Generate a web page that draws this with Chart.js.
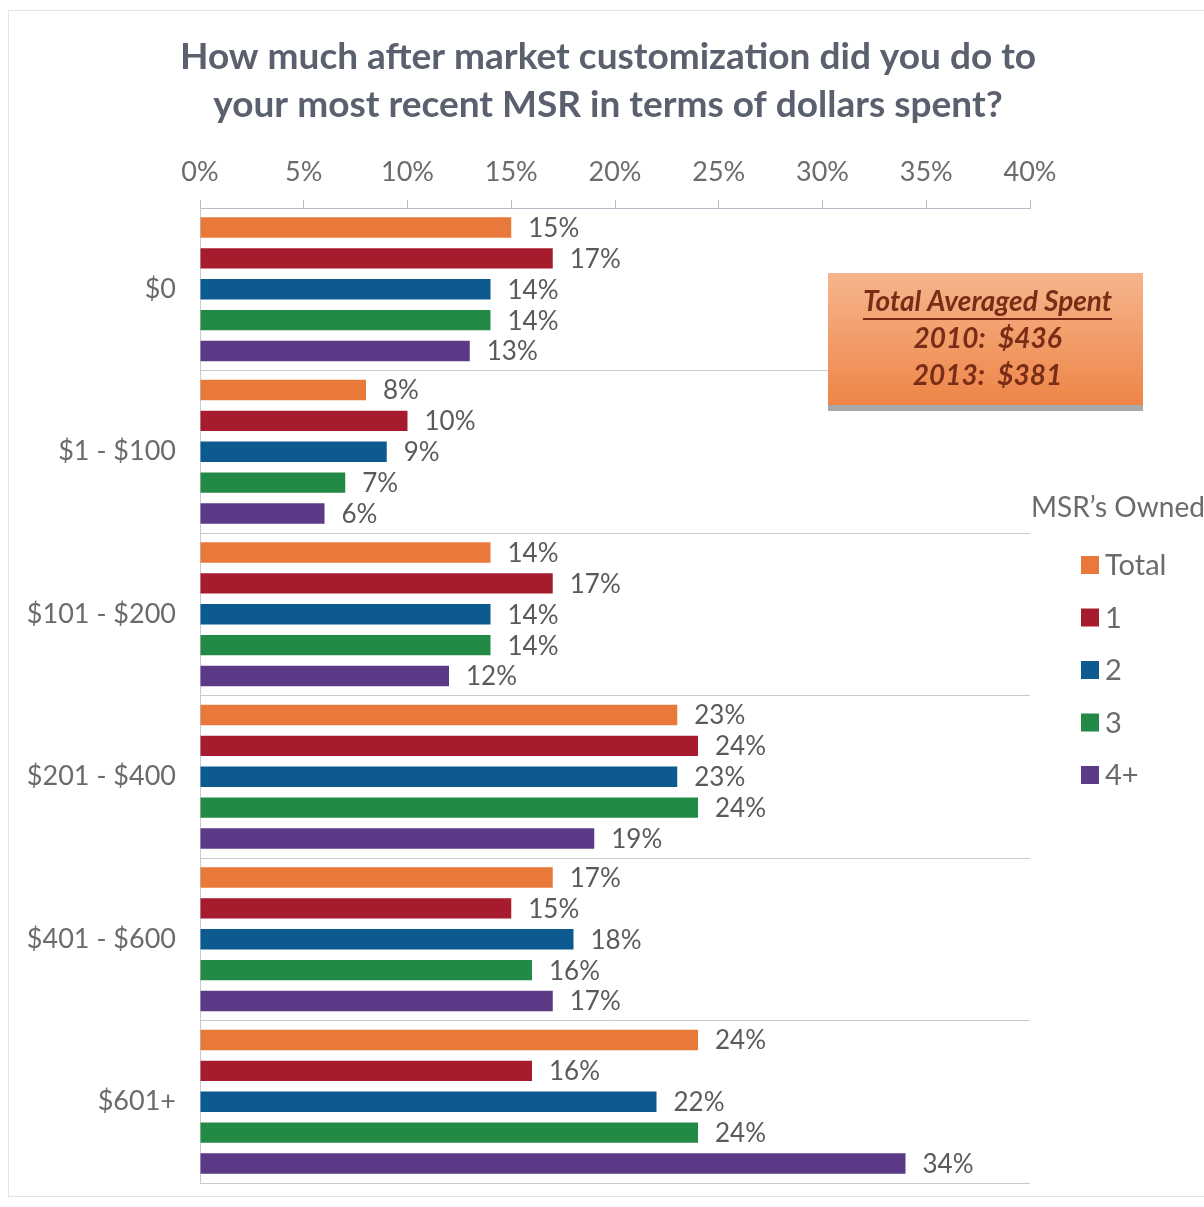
<!DOCTYPE html>
<html>
<head>
<meta charset="utf-8">
<script src="https://cdn.jsdelivr.net/npm/chart.js@4/dist/chart.umd.min.js"></script>
<style>
  html, body { margin: 0; padding: 0; background: #ffffff; }
  #wrap { position: relative; width: 1204px; height: 1207px; }
  #frame { position: absolute; left: 8px; top: 10px; right: -2px; bottom: 10px; border: 1px solid #e4e4e8; pointer-events: none; }
</style>
</head>
<body>
<div id="wrap">
  <canvas id="chart" width="1204" height="1207"></canvas>
  <div id="frame"></div>
</div>
<script>
// Spending brackets (categories) and share of respondents per MSR-count group
const categories = ['$0', '$1 - $100', '$101 - $200', '$201 - $400', '$401 - $600', '$601+'];
const seriesNames = ['Total', '1', '2', '3', '4+'];
const totalValues = [15, 8, 14, 23, 17, 24];
const owned1Values = [17, 10, 17, 24, 15, 16];
const owned2Values = [14, 9, 14, 23, 18, 22];
const owned3Values = [14, 7, 14, 24, 16, 24];
const owned4Values = [13, 6, 12, 19, 17, 34];
const xTicks = [0, 5, 10, 15, 20, 25, 30, 35, 40];
const seriesColors = ['#e8793a', '#a61c2e', '#0d5a91', '#238a46', '#5b3a88'];
const titleLines = ['How much after market customization did you do to', 'your most recent MSR in terms of dollars spent?'];
const boxLines = ['Total Averaged Spent', '2010:  $436', '2013:  $381'];
const keyTitle = 'MSR\u2019s Owned';

const FONT = "Lato, 'Open Sans', 'DejaVu Sans', sans-serif";
const allValues = [totalValues, owned1Values, owned2Values, owned3Values, owned4Values];

const datasets = seriesNames.map((name, i) => ({
  label: name,
  data: allValues[i],
  backgroundColor: seriesColors[i],
  borderWidth: 0,
  categoryPercentage: 0.95,
  barPercentage: 0.66
}));

// Value labels to the right of each bar
const valueLabels = {
  id: 'valueLabels',
  afterDatasetsDraw(chart) {
    const ctx = chart.ctx;
    ctx.save();
    ctx.font = '26px ' + FONT;
    ctx.fillStyle = '#5a5a5a';
    ctx.textAlign = 'left';
    ctx.textBaseline = 'middle';
    chart.data.datasets.forEach((ds, di) => {
      chart.getDatasetMeta(di).data.forEach((bar, i) => {
        ctx.fillText(ds.data[i] + '%', bar.x + 17, bar.y + 1);
      });
    });
    ctx.restore();
  }
};

// Heading, orange summary box and the series key on the right
const extras = {
  id: 'extras',
  afterDraw(chart) {
    const ctx = chart.ctx;
    ctx.save();
    ctx.textAlign = 'center';
    ctx.textBaseline = 'middle';
    ctx.fillStyle = '#5b606e';
    ctx.font = 'bold 37px ' + FONT;
    ctx.fillText(titleLines[0], 608, 57);
    ctx.fillText(titleLines[1], 608, 105);

    // summary box
    const bx = 828, by = 273, bw = 315, bh = 132;
    ctx.fillStyle = '#a9a9ad';
    ctx.fillRect(bx, by + bh, bw, 6);
    const g = ctx.createLinearGradient(0, by, 0, by + bh);
    g.addColorStop(0, '#f6b58d');
    g.addColorStop(1, '#ee8547');
    ctx.fillStyle = g;
    ctx.fillRect(bx, by, bw, bh);
    ctx.fillStyle = '#7a2d16';
    ctx.font = 'italic bold 28px ' + FONT;
    const cx = bx + bw / 2 + 2;
    ctx.fillText(boxLines[0], cx, 302);
    const tw = ctx.measureText(boxLines[0]).width;
    ctx.fillRect(cx - tw / 2, 318, tw, 2);
    ctx.fillText(boxLines[1], cx, 339);
    ctx.fillText(boxLines[2], cx, 376);

    // series key
    ctx.textAlign = 'left';
    ctx.font = '28px ' + FONT;
    ctx.fillStyle = '#6b6b6b';
    ctx.fillText(keyTitle, 1031, 508);
    ctx.font = '29px ' + FONT;
    chart.data.datasets.forEach((ds, i) => {
      const y = 565 + i * 52.5;
      ctx.fillStyle = ds.backgroundColor;
      ctx.fillRect(1081, y - 9, 18, 18);
      ctx.fillStyle = '#6b6b6b';
      ctx.fillText(ds.label, 1105, y + 1);
    });
    ctx.restore();
  }
};

new Chart(document.getElementById('chart'), {
  type: 'bar',
  data: { labels: categories, datasets },
  options: {
    indexAxis: 'y',
    responsive: false,
    animation: false,
    layout: { padding: { left: 0, right: 174, top: 138, bottom: 24 } },
    plugins: {
      legend: { display: false },
      tooltip: { enabled: false },
      title: { display: false }
    },
    scales: {
      x: {
        position: 'top',
        min: 0,
        max: 40,
        afterBuildTicks(scale) { scale.ticks = xTicks.map(v => ({ value: v })); },
        afterFit(scale) {
          scale.height = 70;
          scale.paddingLeft = 0;
          scale.paddingRight = 0;
        },
        ticks: {
          color: '#6b6b6b',
          font: { family: FONT, size: 27 },
          padding: 12,
          maxRotation: 0,
          callback: v => v + '%'
        },
        grid: { drawOnChartArea: false, drawTicks: true, tickLength: 8, color: '#b8bcc8' },
        border: { display: true, color: '#b8bcc8' }
      },
      y: {
        afterFit(scale) {
          scale.width = 200;
          scale.paddingTop = 0;
          scale.paddingBottom = 0;
        },
        ticks: {
          color: '#6b6b6b',
          font: { family: FONT, size: 27 },
          padding: 24
        },
        grid: { offset: true, drawTicks: false, color: '#c9cbd3' },
        border: { display: true, color: '#c9cbd3' }
      }
    }
  },
  plugins: [valueLabels, extras]
});
</script>
</body>
</html>
